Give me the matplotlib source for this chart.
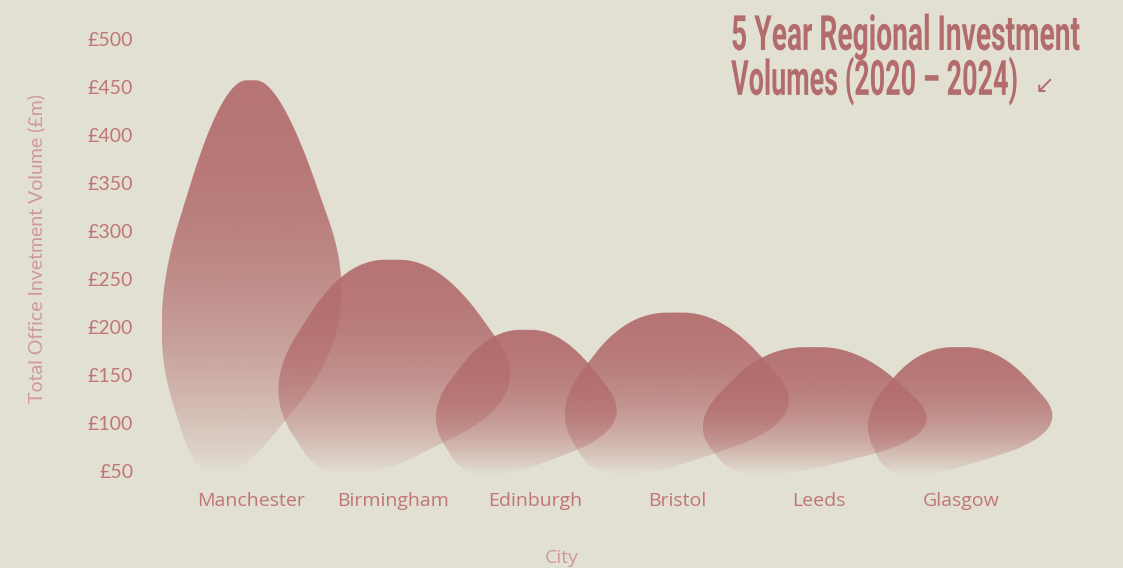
import numpy as np
import matplotlib
matplotlib.use("Agg")
import matplotlib.pyplot as plt
from matplotlib.path import Path
from matplotlib.patches import PathPatch
from matplotlib.colors import to_rgb
from matplotlib.transforms import Affine2D
from matplotlib import patheffects

BG = "#e2dfd3"
FILL = "#b26c6c"
TICK_C = "#c07676"
LABEL_C = "#cf9a98"

cities = ["Manchester", "Birmingham", "Edinburgh", "Bristol", "Leeds", "Glasgow"]
# volume levels (GBP m) that shape each city's blob
peak_vol = [457, 270, 197, 215, 179, 179]
low_vol = [46, 46, 46, 46, 46, 46]
left_vol = [204, 136, 110, 115, 100, 105]
right_vol = [205, 128, 96, 104, 89, 91]
yticks = [50, 100, 150, 200, 250, 300, 350, 400, 450, 500]

# horizontal offsets of the blob corners, in category widths
top_l = [-0.20, -0.34, -0.32, -0.35, -0.38, -0.29]
top_r = [0.20, 0.33, 0.19, 0.32, 0.29, 0.27]
right_x = [0.80, 1.02, 0.73, 0.98, 0.95, 0.80]
bottom_x = [-0.30, -0.42, -0.44, -0.52, -0.54, -0.48]
left_x = [-0.73, -0.92, -0.78, -0.88, -0.91, -0.72]

F = 0.42  # corner rounding, fraction of each edge


def rounded(verts, f=F, n=30):
    verts = np.asarray(verts, float)
    m = len(verts)
    t = np.linspace(0, 1, n)[:, None]
    out = []
    for i in range(m):
        p = verts[i]
        a = p + (verts[i - 1] - p) * f
        b = p + (verts[(i + 1) % m] - p) * f
        out.append((1 - t) ** 2 * a + 2 * (1 - t) * t * p + t ** 2 * b)
    pts = np.vstack(out)
    return np.vstack([pts, pts[:1]])


class Squeeze(patheffects.AbstractPathEffect):
    """Narrow the glyphs horizontally around a fixed x (display px)."""

    def __init__(self, x0, sx):
        super().__init__()
        self.x0, self.sx = x0, sx

    def draw_path(self, renderer, gc, tpath, affine, rgbFace=None):
        squeeze = Affine2D().translate(-self.x0, 0).scale(self.sx, 1).translate(self.x0, 0)
        renderer.draw_path(gc, tpath, affine + squeeze, rgbFace)


fig = plt.figure(figsize=(11.23, 5.68), dpi=100, facecolor=BG)
ax = fig.add_axes([0.1224, 0.1539, 0.8346, 0.7859])
ax.set_facecolor(BG)

rgb = to_rgb(FILL)
for i in range(len(cities)):
    # bottom corner placed so the rounded curve touches low_vol
    yb = (low_vol[i] - 0.25 * F * (right_vol[i] + left_vol[i])) / (1 - 0.5 * F)
    verts = [
        (i + top_l[i], peak_vol[i]),
        (i + top_r[i], peak_vol[i]),
        (i + right_x[i], right_vol[i]),
        (i + bottom_x[i], yb),
        (i + left_x[i], left_vol[i]),
    ]
    pts = rounded(verts)
    patch = PathPatch(Path(pts, closed=True), facecolor="none", edgecolor="none")
    ax.add_patch(patch)
    x0, x1 = pts[:, 0].min(), pts[:, 0].max()
    y0, y1 = pts[:, 1].min(), pts[:, 1].max()
    tt = np.linspace(0, 1, 256)
    img = np.zeros((256, 1, 4))
    img[:, 0, :3] = rgb
    img[:, 0, 3] = 0.92 * (1 - tt ** 2.2)
    im = ax.imshow(img, extent=[x0, x1, y0, y1], origin="upper",
                   aspect="auto", interpolation="bilinear", zorder=2 + i)
    im.set_clip_path(patch)

ax.set_xlim(-0.8, 5.8)
ax.set_ylim(40, 505)
for s in ax.spines.values():
    s.set_visible(False)

ax.set_yticks(yticks)
ax.set_yticklabels(["£" + str(v) for v in yticks], fontfamily="Lato",
                   fontsize=14, color=TICK_C)
ax.set_xticks(range(len(cities)))
ax.set_xticklabels(cities, fontfamily="Open Sans", fontsize=14, color=TICK_C)
ax.tick_params(axis="both", length=0)
ax.tick_params(axis="y", pad=3)
ax.tick_params(axis="x", pad=8)

ax.set_ylabel("Total Office Invetment Volume (£m)", fontfamily="Lato",
              fontsize=14, color=LABEL_C)
ax.yaxis.set_label_coords(-0.0986, 0.52)
ax.set_xlabel("City", fontfamily="Open Sans", fontsize=14, color=LABEL_C)
ax.xaxis.set_label_coords(0.453, -0.153)

# title, set in a narrowed bold face
tx = 0.651
x_px = tx * fig.bbox.width
for line, yb, sx in [("5 Year Regional Investment", 0.912, 0.58),
                     ("Volumes (2020 – 2024)", 0.833, 0.555)]:
    fig.text(tx, yb, line, family="Roboto", fontweight="bold", fontsize=35,
             color=FILL, ha="left", va="baseline",
             path_effects=[Squeeze(x_px, sx)])
fig.text(0.930, 0.848, "↙", family="DejaVu Sans", fontsize=17, color=FILL,
         ha="center", va="center")

fig.savefig("out.png", dpi=100, facecolor=BG)
